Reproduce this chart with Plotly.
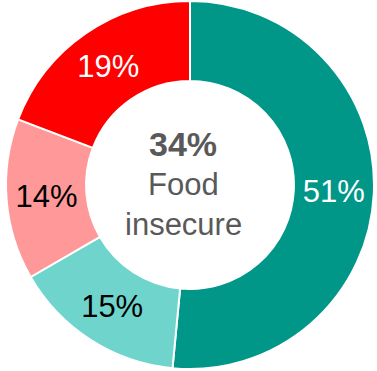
import plotly.graph_objects as go

labels = ["Group A", "Group B", "Group C", "Group D"]
values = [51, 15, 14, 19]
text_labels = ["51%", "15%", "14%", "19%"]
colors = ["#009688", "#6fd5cc", "#ff9999", "#ff0000"]
text_colors = ["#ffffff", "#000000", "#000000", "#ffffff"]
center_pct = "34%"
center_lines = ["Food", "insecure"]

W, H = 377, 371
fig = go.Figure(go.Pie(
    labels=labels, values=values, text=text_labels,
    textinfo="text", textposition="inside",
    insidetextorientation="horizontal",
    insidetextfont=dict(family="Liberation Sans, Arial", size=31, color=text_colors),
    marker=dict(colors=colors, line=dict(color="white", width=2)),
    hole=0.565, sort=False, direction="clockwise", rotation=0,
    domain=dict(x=[6 / W, 374 / W], y=[2 / H, 370 / H]),
    showlegend=False, hoverinfo="none",
))

font = dict(family="Liberation Sans, Arial", color="#595959")
cx = 183 / W
fig.add_annotation(x=cx, y=1 - 144 / H, xref="paper", yref="paper", showarrow=False,
                   text="<b>" + center_pct + "</b>", font=dict(size=34, **font))
fig.add_annotation(x=cx, y=1 - 184 / H, xref="paper", yref="paper", showarrow=False,
                   text=center_lines[0], font=dict(size=31, **font))
fig.add_annotation(x=cx, y=1 - 224 / H, xref="paper", yref="paper", showarrow=False,
                   text=center_lines[1], font=dict(size=31, **font))

fig.update_layout(width=W, height=H, margin=dict(l=0, r=0, t=0, b=0),
                  paper_bgcolor="white", plot_bgcolor="white")
fig.write_html("out.html", config={"displayModeBar": False},
               post_script="document.body.style.margin='0';")
